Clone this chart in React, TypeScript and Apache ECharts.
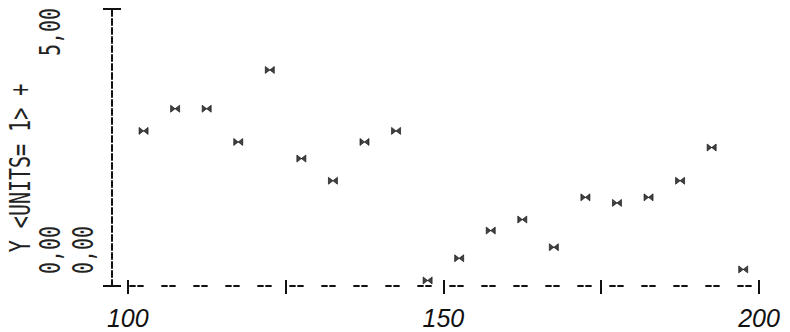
import React, { useEffect, useRef } from "react";
import * as echarts from "echarts";

const xValues = [102.5, 107.5, 112.5, 117.5, 122.5, 127.5, 132.5, 137.5, 142.5, 147.5, 152.5, 157.5, 162.5, 167.5, 172.5, 177.5, 182.5, 187.5, 192.5, 197.5];
const yValues = [2.8, 3.2, 3.2, 2.6, 3.9, 2.3, 1.9, 2.6, 2.8, 0.1, 0.5, 1.0, 1.2, 0.7, 1.6, 1.5, 1.6, 1.9, 2.5, 0.3];
const xTickValues = [100, 125, 150, 175, 200];
const xLabelValues = [100, 150, 200];
const yTopLabel = "5,00";
const yBottomLabel = "0,00";
const yAxisTitle = "Y <UNITS= 1> +";

export default function App() {
  const ref = useRef<HTMLDivElement>(null);
  useEffect(() => {
    if (!ref.current) return;
    const chart = echarts.init(ref.current, null, { renderer: "svg" });
    const monoFont = '20px "DejaVu Sans Mono"';
    const rotText = (text: string, x: number, y: number) => ({
      type: "text",
      x,
      y,
      rotation: Math.PI / 2,
      scaleY: 1.45,
      style: { text, font: monoFont, fill: "#222", align: "center", verticalAlign: "middle" },
    });
    chart.setOption({
      animation: false,
      backgroundColor: "#fff",
      grid: { left: 112, right: 31, top: 9, bottom: 46 },
      xAxis: [
        {
          type: "value",
          min: 97.5,
          max: 200,
          splitLine: { show: false },
          axisLine: { show: true, lineStyle: { color: "#111", width: 1.8, type: [5, 3, 5, 19], dashOffset: 14 } },
          axisTick: { show: true, customValues: xTickValues, length: 8, lineStyle: { color: "#111", width: 2 } },
          axisLabel: {
            show: true,
            customValues: xLabelValues,
            margin: 21,
            fontSize: 25,
            lineHeight: 22,
            fontStyle: "italic",
            fontFamily: "Liberation Sans",
            color: "#111",
          },
        },
        {
          type: "value",
          min: 97.5,
          max: 200,
          position: "bottom",
          splitLine: { show: false },
          axisLine: { show: false },
          axisTick: { show: true, inside: true, customValues: xTickValues, length: 6, lineStyle: { color: "#111", width: 2 } },
          axisLabel: { show: false },
        },
      ],
      yAxis: [
        {
          type: "value",
          min: 0,
          max: 5,
          interval: 5,
          splitLine: { show: false },
          axisLine: { show: true, lineStyle: { color: "#111", width: 2, type: [6, 3] } },
          axisTick: { show: true, length: 9, lineStyle: { color: "#111", width: 2 } },
          axisLabel: { show: false },
        },
        {
          type: "value",
          min: 0,
          max: 5,
          interval: 5,
          position: "left",
          splitLine: { show: false },
          axisLine: { show: false },
          axisTick: { show: true, inside: true, length: 9, lineStyle: { color: "#111", width: 2 } },
          axisLabel: { show: false },
        },
      ],
      graphic: [
        rotText(yTopLabel, 50, 32),
        rotText(yBottomLabel, 50, 250),
        rotText(yBottomLabel, 83, 250),
        rotText(yAxisTitle, 20, 168),
      ],
      series: [
        {
          type: "scatter",
          data: xValues.map((x, i) => [x, yValues[i]]),
          symbol: "path://M0,0L0,7L9,0L9,7Z",
          symbolSize: [9, 7],
          itemStyle: { color: "#111", borderColor: "#111", borderWidth: 0.8 },
        },
      ],
    });
    return () => chart.dispose();
  }, []);
  return <div ref={ref} style={{ position: "fixed", left: 0, top: 0, width: 790, height: 332 }} />;
}
